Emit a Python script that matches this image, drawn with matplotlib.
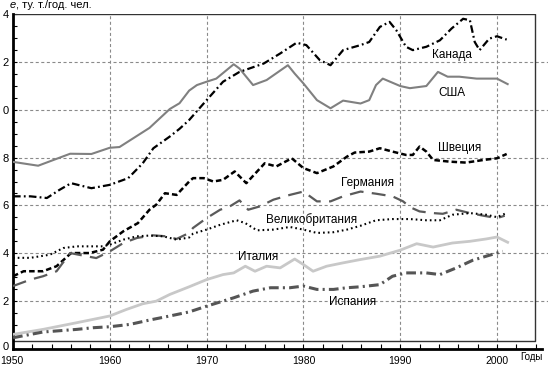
import matplotlib
matplotlib.use('Agg')
import matplotlib.pyplot as plt
import matplotlib.transforms as mtrans
import numpy as np

plt.rcParams['font.family'] = ['Liberation Sans', 'DejaVu Sans']
plt.rcParams['lines.scale_dashes'] = False

# ---- data ----
usa_x = [1950, 1952.6, 1955.9, 1958.1, 1960, 1961, 1964.1, 1966.2, 1967.2, 1968.2, 1969, 1970, 1971,
         1972.8, 1973.4, 1974.8, 1976.2, 1978.4, 1979.1, 1980, 1981.4, 1982.8, 1984.1, 1985.9,
         1986.8, 1987.5, 1988.2, 1990, 1991, 1992.7, 1993.9, 1994.9, 1996.1, 1997.9, 2000, 2001.1]
usa_y = [7.82, 7.66, 8.16, 8.15, 8.41, 8.44, 9.24, 10.03, 10.27, 10.8, 11.03, 11.17, 11.3,
         11.9, 11.72, 11.03, 11.24, 11.86, 11.51, 11.1, 10.4, 10.06, 10.38, 10.26,
         10.4, 11.03, 11.3, 10.99, 10.9, 10.99, 11.58, 11.38, 11.38, 11.3, 11.3, 11.07]

can_x = [1950, 1951.8, 1953.5, 1954.8, 1956, 1958.1, 1960, 1961.9, 1963.4, 1964.5, 1966.2, 1967.2,
         1968.2, 1970, 1971.7, 1973.4, 1975.9, 1977.6, 1979.3, 1980.3, 1981.7, 1982.8, 1984.1,
         1985.9, 1986.8, 1987.9, 1988.9, 1989.6, 1990.6, 1991.3, 1992.7, 1994.1, 1995.3, 1996.5,
         1997.2, 1997.7, 1998.2, 1999.2, 2000, 2001]
can_y = [6.38, 6.38, 6.31, 6.65, 6.93, 6.72, 6.86, 7.14, 7.76, 8.39, 8.88, 9.2,
         9.57, 10.4, 11.17, 11.58, 11.93, 12.35, 12.8, 12.7, 12.07, 11.86, 12.49,
         12.7, 12.83, 13.46, 13.67, 13.32, 12.63, 12.49, 12.63, 12.9, 13.39, 13.8,
         13.74, 12.83, 12.49, 12.97, 13.07, 12.93]

swe_x = [1950, 1951.1, 1953.1, 1954.5, 1956, 1957.9, 1959.3, 1960, 1961.4, 1962.9, 1964.1, 1964.8,
         1965.7, 1966.9, 1968.2, 1968.6, 1969.7, 1970.7, 1971.7, 1972.9, 1974.1, 1976, 1977.2,
         1978.8, 1980, 1981.4, 1983.1, 1984.5, 1985.3, 1986.8, 1987.9, 1989.2, 1990.6, 1991.3,
         1992, 1992.7, 1993.4, 1995.1, 1996.8, 1998.6, 2000, 2001]
swe_y = [3.04, 3.25, 3.25, 3.46, 4.01, 4.01, 4.15, 4.5, 4.92, 5.26, 5.82, 6.03,
         6.51, 6.44, 7.0, 7.14, 7.14, 7.0, 7.07, 7.42, 6.93, 7.76, 7.63,
         7.97, 7.56, 7.35, 7.63, 8.04, 8.21, 8.25, 8.39, 8.25, 8.11, 8.11,
         8.46, 8.25, 7.9, 7.83, 7.79, 7.9, 7.97, 8.15]

ger_x = [1950, 1951.8, 1953.1, 1954.5, 1955.9, 1957.3, 1958.6, 1960, 1961.4, 1962.8, 1964.5, 1965.8,
         1966.9, 1968.2, 1968.6, 1970, 1971.4, 1972.4, 1973.4, 1974.3, 1975.5, 1976.9, 1978.6,
         1980, 1981.4, 1982.8, 1984.1, 1985.9, 1987.5, 1989.2, 1990.3, 1991, 1992, 1993.4, 1994.4,
         1995.8, 1997.2, 1998.6, 2000, 2000.8]
ger_y = [2.63, 2.9, 3.04, 3.25, 4.01, 3.9, 3.8, 4.08, 4.43, 4.64, 4.75, 4.71,
         4.6, 4.85, 5.06, 5.47, 5.82, 5.96, 6.21, 5.82, 5.96, 6.24, 6.44,
         6.58, 6.17, 6.17, 6.38, 6.58, 6.49, 6.38, 6.17, 5.93, 5.75, 5.68, 5.65,
         5.82, 5.68, 5.57, 5.47, 5.57]

uk_x = [1950, 1951.8, 1953.8, 1955.2, 1956.6, 1959.3, 1960, 1961.4, 1962.8, 1964.1, 1965.5, 1966.9,
        1968.2, 1968.6, 1970, 1971.4, 1973.1, 1974, 1975.2, 1976.9, 1978.6, 1980, 1981.4, 1983.1,
        1984.5, 1985.9, 1987.5, 1989.2, 1991, 1992.7, 1994.1, 1995.4, 1997.2, 1998.9, 2000, 2000.8]
uk_y = [3.81, 3.81, 3.94, 4.22, 4.29, 4.29, 4.36, 4.57, 4.71, 4.74, 4.71, 4.57,
        4.66, 4.82, 4.99, 5.19, 5.38, 5.26, 4.96, 4.99, 5.1, 4.99, 4.85, 4.88,
        4.99, 5.15, 5.38, 5.43, 5.43, 5.38, 5.38, 5.61, 5.68, 5.61, 5.51, 5.65]

ita_x = [1950, 1953.1, 1956.6, 1960, 1961.7, 1963.4, 1964.8, 1966.2, 1968.2, 1970, 1971.7, 1972.8,
         1974, 1975, 1976.2, 1977.6, 1979.1, 1980, 1981, 1982.4, 1984.1, 1985.9, 1987.9, 1990,
         1991.7, 1993.4, 1995.4, 1997.2, 1998.9, 2000, 2001.1]
ita_y = [0.61, 0.82, 1.1, 1.38, 1.65, 1.89, 2.0, 2.28, 2.6, 2.9, 3.11, 3.18,
         3.46, 3.25, 3.46, 3.39, 3.76, 3.53, 3.25, 3.46, 3.6, 3.74, 3.88, 4.13,
         4.4, 4.26, 4.43, 4.5, 4.6, 4.68, 4.46]

spa_x = [1950, 1953.1, 1956.6, 1958.3, 1960, 1962.1, 1964.1, 1966.2, 1968.2, 1970, 1972.8, 1974.8,
         1976.6, 1978.6, 1980, 1981.4, 1983.1, 1984.5, 1985.9, 1987.9, 1989.2, 1990.6, 1992.7,
         1994.1, 1995.8, 1997.5, 1998.9, 2000, 2000.6]
spa_y = [0.47, 0.71, 0.82, 0.89, 0.93, 1.03, 1.21, 1.38, 1.55, 1.79, 2.14, 2.42,
         2.56, 2.56, 2.63, 2.49, 2.49, 2.56, 2.6, 2.69, 3.04, 3.18, 3.18,
         3.11, 3.39, 3.71, 3.88, 4.01, 4.08]

W, H = 548, 365
fig = plt.figure(figsize=(W / 100, H / 100), dpi=100)
x0 = 13; xr = 548; yb = 349; yt = 14
ax = fig.add_axes([x0 / W, 1 - yb / H, (xr - x0) / W, (yb - yt) / H])
pxyr = 9.68
ax.set_xlim(1950, 1950 + (xr - x0) / pxyr)
ax.set_ylim(0, 14)

# grid
gcol = '#8a8a8a'
ax.hlines(np.arange(2, 13, 2), 1950, 2006, colors=gcol, linestyles=(0, (2.2, 1.8)), lw=0.8, zorder=1)
ax.vlines(np.arange(1960, 2001, 10), 0.33, 14, colors=gcol, linestyles=(0, (2.2, 1.8)), lw=0.8, zorder=1)

# inner frame
box_r = 1950 + (535 - x0) / pxyr
ax.plot([1950, box_r, box_r, 1950], [14, 14, 0.33, 0.33], color='#333333', lw=1.0, zorder=2)

# series
ax.plot(usa_x, usa_y, color='#808080', lw=1.5, zorder=3)
ax.plot(can_x, can_y, color='black', lw=1.6, linestyle=(0, (5.5, 2.3, 1.3, 2.3)), zorder=3)
ax.plot(swe_x, swe_y, color='black', lw=1.8, linestyle=(0, (4.0, 2.2)), zorder=3)
ax.plot(ger_x, ger_y, color='#5a5a5a', lw=1.6, linestyle=(0, (10, 6)), zorder=3)
ax.plot(uk_x, uk_y, color='black', lw=1.5, linestyle=(0, (1.2, 2.2)), zorder=3)
ax.plot(ita_x, ita_y, color='#c8c8c8', lw=2.0, zorder=3)
ax.plot(spa_x, spa_y, color='#555555', lw=2.2, linestyle=(0, (7, 3, 1.5, 3)), zorder=3)

# labels for series
def px(xp, yp):
    return 1950 + (xp - x0) / pxyr, (yb - yp) / ((yb - yt) / 14)

lab_fs = 8.5
for name, (xp, yp) in [('Канада', (452, 55)), ('США', (452, 93)), ('Швеция', (460, 148)),
                       ('Германия', (368, 183)), ('Великобритания', (312, 220)),
                       ('Италия', (258, 257)), ('Испания', (353, 302))]:
    xx, yy = px(xp, yp)
    ax.text(xx, yy, name, fontsize=lab_fs, ha='center', va='center', zorder=4)

# axes styling
for s in ['top', 'right']:
    ax.spines[s].set_visible(False)
ax.spines['left'].set_linewidth(2.0)
ax.spines['bottom'].set_linewidth(2.0)
ax.spines['bottom'].set_bounds(1950, 1950 + (542 - x0) / pxyr)

ax.set_xticks(np.arange(1950, 2001, 10))
ax.set_xticks(np.arange(1950, 2005, 2), minor=True)
ax.set_yticks(np.arange(0, 15, 2))
ax.set_yticks(np.arange(0, 14.1, 0.5), minor=True)
ax.set_xticklabels([str(v) for v in range(1950, 2001, 10)])
# the reference shows only the last digit of the y labels (left edge cut)
ax.set_yticklabels([str(int(v) % 10) for v in np.arange(0, 15, 2)])
ax.tick_params(axis='x', which='both', direction='in', length=3.5, width=0.8, labelsize=7.5, pad=5)
ax.tick_params(axis='y', which='both', direction='in', length=3, width=0.8, labelsize=8, pad=3)

# nudge first x label and the "0" y label like in the reference
first = ax.get_xticklabels()[0]
first.set_transform(first.get_transform() + mtrans.ScaledTranslation(-1.5 / 100, 0, fig.dpi_scale_trans))
zero = ax.get_yticklabels()[0]
zero.set_transform(zero.get_transform() + mtrans.ScaledTranslation(0, 2.5 / 100, fig.dpi_scale_trans))

fig.text(10 / W, 1 - 5 / H, 'е', fontsize=8, style='italic', va='center', ha='left')
fig.text(16 / W, 1 - 5 / H, ', ту. т./год. чел.', fontsize=8, va='center', ha='left')
fig.text(531 / W, 1 - 357 / H, 'Годы', fontsize=7, va='center', ha='center')

fig.savefig('out.png', dpi=100)
